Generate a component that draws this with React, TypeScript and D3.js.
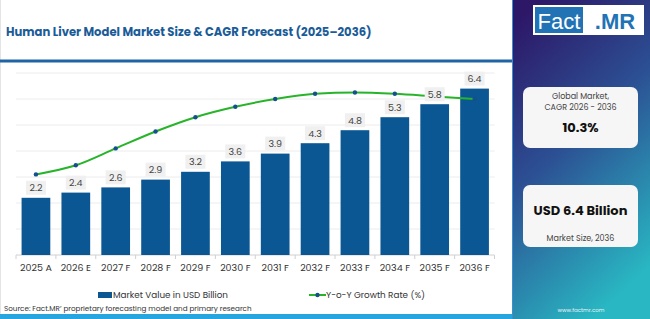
import { useEffect, useRef } from 'react';
import * as d3 from 'd3';

const categories = [
  '2025 A', '2026 E', '2027 F', '2028 F', '2029 F', '2030 F',
  '2031 F', '2032 F', '2033 F', '2034 F', '2035 F', '2036 F',
];
// market value, USD billion
const marketValues = [2.2, 2.4, 2.6, 2.9, 3.2, 3.6, 3.9, 4.3, 4.8, 5.3, 5.8, 6.4];
// year-on-year growth, %
const growthRates = [8.1, 8.45, 9.1, 9.75, 10.3, 10.7, 11.0, 11.2, 11.25, 11.2, 11.1, 11.0];
const yTicks = [0, 1, 2, 3, 4, 5, 6, 7];

const W = 650;
const H = 319;
const PANEL_X = 513;
const FONT = 'Poppins, Inter, sans-serif';
const LOGO_FONT = '"Liberation Sans", Arial, sans-serif';
const BAR_COLOR = '#0b5794';
const LINE_COLOR = '#27b32a';

export default function App() {
  const axisRef = useRef<SVGGElement>(null);

  const x = d3.scaleBand<string>()
    .domain(categories)
    .range([16, 494.5])
    .paddingInner(0.28)
    .paddingOuter(0.14);
  const y = d3.scaleLinear().domain([0, 7]).range([255, 73]);
  const y2 = d3.scaleLinear().domain([5, 12]).range([255, 73]);

  const line = d3.line<number>()
    .x((_, i) => x(categories[i])! + x.bandwidth() / 2)
    .y((d) => y2(d))
    .curve(d3.curveMonotoneX);

  useEffect(() => {
    if (!axisRef.current) return;
    const g = d3.select(axisRef.current);
    g.call(d3.axisBottom(x).tickSize(0).tickPadding(9));
    g.select('.domain').remove();
    g.selectAll('text')
      .attr('font-family', FONT)
      .attr('font-size', 9.5)
      .attr('fill', '#333');
  }, []);

  const step = x.step();

  return (
    <div style={{ position: 'absolute', left: 0, top: 0 }}>
      <svg width={W} height={H} style={{ display: 'block' }}>
        <defs>
          <linearGradient id="panelGrad" x1="0.2" y1="0" x2="0.6" y2="1">
            <stop offset="0%" stopColor="#2d1868" />
            <stop offset="45%" stopColor="#2c4f93" />
            <stop offset="100%" stopColor="#29b8c3" />
          </linearGradient>
        </defs>
        <rect x={0} y={0} width={W} height={H} fill="#fff" />
        <line x1={0.5} y1={0} x2={0.5} y2={H} stroke="#e4e4e4" />

        {/* title */}
        <text x={6} y={36} fontFamily={FONT} fontWeight={700} fontSize={11.6} fill="#1b5c98">
          Human Liver Model Market Size &amp; CAGR Forecast (2025–2036)
        </text>
        <rect x={0} y={59.5} width={PANEL_X} height={3} fill="#1f64a3" />

        {/* grid */}
        {yTicks.map((t) => (
          <line key={t} x1={16} x2={494.5} y1={y(t)} y2={y(t)}
            stroke={t === 0 ? '#d0d0d0' : '#ececec'} strokeWidth={1} />
        ))}
        {categories.concat(['end']).map((c, i) => {
          const bx = 16 + i * step;
          return <line key={c} x1={bx} x2={bx} y1={255} y2={259} stroke="#d0d0d0" />;
        })}

        {/* bars */}
        {marketValues.map((v, i) => (
          <rect key={categories[i]} x={x(categories[i])} y={y(v)}
            width={x.bandwidth()} height={y(0) - y(v)} fill={BAR_COLOR} />
        ))}

        {/* growth line */}
        <path d={line(growthRates)!} fill="none" stroke={LINE_COLOR} strokeWidth={2} />
        {growthRates.map((g, i) => (
          <circle key={i} cx={x(categories[i])! + x.bandwidth() / 2} cy={y2(g)} r={2.2} fill="#13508c" />
        ))}

        {/* value labels */}
        {marketValues.map((v, i) => {
          const cx = x(categories[i])! + x.bandwidth() / 2;
          const cy = y(v) - 10;
          return (
            <g key={i}>
              <rect x={cx - 10} y={cy - 7} width={20} height={14} fill="#f0f0f0" />
              <text x={cx} y={cy} textAnchor="middle" dominantBaseline="central"
                fontFamily={FONT} fontSize={9.5} fill="#444">
                {v.toFixed(1)}
              </text>
            </g>
          );
        })}

        <g ref={axisRef} transform="translate(0,255)" />

        {/* legend */}
        <rect x={98} y={292} width={14} height={6} fill={BAR_COLOR} />
        <text x={113} y={295} dominantBaseline="central" fontFamily={FONT} fontSize={8.8} fill="#333">
          Market Value in USD Billion
        </text>
        <line x1={309} x2={326} y1={295} y2={295} stroke={LINE_COLOR} strokeWidth={2} />
        <circle cx={317.5} cy={295} r={2.2} fill="#13508c" />
        <text x={326} y={295} dominantBaseline="central" fontFamily={FONT} fontSize={8.8} fill="#333">
          Y-o-Y Growth Rate (%)
        </text>
        <text x={4} y={308} dominantBaseline="central" fontFamily={FONT} fontSize={7.2} fill="#333">
          Source: Fact.MR’ proprietary forecasting model and primary research
        </text>
        <rect x={0} y={314} width={PANEL_X} height={5} fill="#27a5de" />

        {/* side panel */}
        <rect x={PANEL_X} y={0} width={W - PANEL_X} height={H} fill="url(#panelGrad)" />
        <line x1={PANEL_X - 0.5} x2={PANEL_X - 0.5} y1={0} y2={H} stroke="#3b8fd0" strokeWidth={1} />

        <rect x={533} y={5} width={111} height={30} fill="#fff" />
        <rect x={535} y={7} width={48} height={26} fill="#2273b5" />
        <text x={559} y={21} textAnchor="middle" dominantBaseline="central"
          fontFamily={LOGO_FONT} fontSize={22} fill="#fff">Fact</text>
        <text x={615} y={21} textAnchor="middle" dominantBaseline="central"
          fontFamily={LOGO_FONT} fontWeight={700} fontSize={22} fill="#2273b5">.MR</text>

        <rect x={523} y={87} width={115} height={61} rx={7} fill="#f6f6f6" />
        <text x={580.5} y={96} textAnchor="middle" dominantBaseline="central"
          fontFamily={FONT} fontSize={8} fill="#444">Global Market,</text>
        <text x={580.5} y={107} textAnchor="middle" dominantBaseline="central"
          fontFamily={FONT} fontSize={8} fill="#444">CAGR 2026 - 2036</text>
        <text x={580.5} y={127} textAnchor="middle" dominantBaseline="central"
          fontFamily={FONT} fontWeight={700} fontSize={13} fill="#111">10.3%</text>

        <rect x={523} y={185} width={115} height={62} rx={7} fill="#f6f6f6" />
        <text x={580.5} y={210} textAnchor="middle" dominantBaseline="central"
          fontFamily={FONT} fontWeight={700} fontSize={13} fill="#111">USD 6.4 Billion</text>
        <text x={580.5} y={238} textAnchor="middle" dominantBaseline="central"
          fontFamily={FONT} fontSize={8} fill="#444">Market Size, 2036</text>

        <text x={581} y={310} textAnchor="middle" dominantBaseline="central"
          fontFamily={FONT} fontSize={5.5} fill="#e8f4f8">www.factmr.com</text>
      </svg>
    </div>
  );
}
